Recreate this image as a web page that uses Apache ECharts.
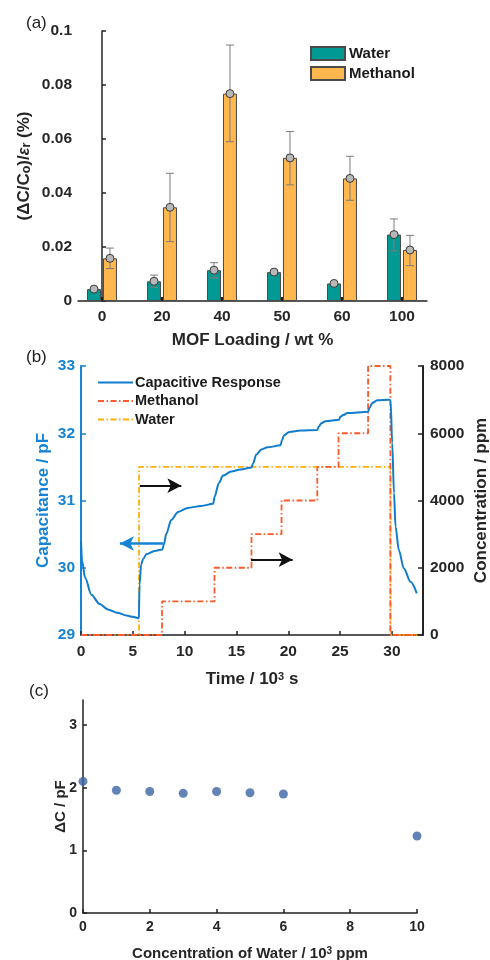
<!DOCTYPE html>
<html>
<head>
<meta charset="utf-8">
<script src="https://cdn.jsdelivr.net/npm/echarts@6/dist/echarts.min.js"></script>
<style>
  html, body { margin: 0; padding: 0; background: #fff; }
  #chart { width: 490px; height: 960px; }
</style>
</head>
<body>
<div id="chart"></div>
<script>
// (a) sensitivity vs MOF loading
var loadings = ['0', '20', '40', '50', '60', '100'];
var waterMean = [0.0044, 0.0073, 0.0114, 0.0107, 0.0065, 0.0246];
var waterLow  = [0.0040, 0.0051, 0.0086, 0.0101, 0.0060, 0.0186];
var waterHigh = [0.0048, 0.0096, 0.0142, 0.0112, 0.0069, 0.0304];
var methMean  = [0.0158, 0.0347, 0.0768, 0.0530, 0.0454, 0.0189];
var methLow   = [0.0120, 0.0220, 0.0590, 0.0430, 0.0373, 0.0131];
var methHigh  = [0.0196, 0.0473, 0.0948, 0.0628, 0.0536, 0.0243];

// (b) time trace, time in 10^3 s
var capTime = [0, 0.1, 0.4, 1.0, 1.8, 2.6, 3.5, 4.4, 5.0, 5.58,
  5.65, 5.8, 6.0, 6.3, 7.1, 7.85,
  8.0, 8.24, 8.7, 9.36, 10.3, 11.6, 12.75,
  12.9, 13.3, 13.7, 14.5, 15.4, 16.45,
  16.6, 16.9, 17.4, 18.0, 19.25,
  19.4, 19.6, 20.1, 21.2, 22.8,
  22.95, 23.2, 23.6, 24.9,
  25.0, 25.3, 25.7, 27.7,
  27.85, 28.1, 28.6, 29.7, 29.87,
  30.03, 30.2, 30.35, 30.67, 31.15, 31.8, 32.4];
var capVal = [30.40, 30.10, 29.85, 29.60, 29.46, 29.38, 29.33, 29.29, 29.27, 29.25,
  29.75, 30.05, 30.13, 30.20, 30.25, 30.27,
  30.35, 30.51, 30.71, 30.83, 30.89, 30.92, 30.95,
  31.06, 31.26, 31.37, 31.43, 31.46, 31.49,
  31.55, 31.68, 31.76, 31.79, 31.82,
  31.90, 31.97, 32.02, 32.04, 32.05,
  32.10, 32.15, 32.18, 32.20,
  32.24, 32.27, 32.30, 32.32,
  32.38, 32.45, 32.49, 32.50, 32.49,
  31.85, 31.11, 30.61, 30.26, 29.99, 29.79, 29.62];
var methStepTime = [0, 7.82, 12.88, 16.45, 19.35, 22.8, 24.85, 27.7, 29.85, 32.4];
var methStepPpm  = [0, 1000, 2000, 3000, 4000, 5000, 6000, 8000, 0, 0];
var waterStepTime = [0, 5.6, 29.87, 32.4];
var waterStepPpm  = [0, 5000, 0, 0];

// arrows on (b), [start, end] in time / pF
var arrowWater = [[5.67, 31.22], [9.68, 31.22]];
var arrowMeth  = [[16.4, 30.12], [20.42, 30.12]];
var arrowCap   = [[7.95, 30.36], [3.75, 30.36]];

// (c) delta C vs water concentration (10^3 ppm)
var waterConc = [0, 1, 2, 3, 4, 5, 6, 10];
var deltaC    = [2.10, 1.96, 1.94, 1.91, 1.94, 1.92, 1.90, 1.23];

var BAR_W = 14, BAR_GAP = 0.14;
var FONT = 'Liberation Sans';
var INK = '#262626';
var BLUE = '#1683d3';
var CAP_BLUE = '#0f7ccc';
var METH_RED = '#fb5a2a';
var WATER_YEL = '#ffae0a';

function pairs(xs, ys) {
  return xs.map(function (x, i) { return [x, ys[i]]; });
}

function errorBars(sign) {
  return function (params, api) {
    var x = api.value(0);
    var lo = api.coord([x, api.value(1)]);
    var hi = api.coord([x, api.value(2)]);
    var mid = api.coord([x, api.value(3)]);
    var cx = lo[0] + sign * BAR_W * (1 + BAR_GAP) / 2;
    var st = { stroke: '#7c7c7c', lineWidth: 1 };
    return {
      type: 'group',
      children: [
        { type: 'line', shape: { x1: cx, y1: hi[1], x2: cx, y2: lo[1] }, style: st },
        { type: 'line', shape: { x1: cx - 4, y1: hi[1], x2: cx + 4, y2: hi[1] }, style: st },
        { type: 'line', shape: { x1: cx - 4, y1: lo[1], x2: cx + 4, y2: lo[1] }, style: st },
        { type: 'circle', shape: { cx: cx, cy: mid[1], r: 4 },
          style: { fill: '#b8b8b8', stroke: '#3a3a3a', lineWidth: 1 } }
      ]
    };
  };
}

function errData(mean, low, high) {
  return mean.map(function (m, i) { return [i, low[i], high[i], m]; });
}

function arrowLine(a, color, width) {
  return [
    { coord: a[0], lineStyle: { color: color, width: width, type: 'solid' }, symbol: 'none' },
    { coord: a[1], symbol: 'arrow' }
  ];
}

var nameLbl = { fontSize: 17, fontWeight: 'bold', color: INK };

var chart = echarts.init(document.getElementById('chart'));

var option = {
  animation: false,
  textStyle: { fontFamily: FONT },
  title: [
    { text: '(a)', left: 26, top: 15, padding: 0, textStyle: { fontSize: 17, fontWeight: 'normal', color: '#222' } },
    { text: '(b)', left: 26, top: 349, padding: 0, textStyle: { fontSize: 17, fontWeight: 'normal', color: '#222' } },
    { text: '(c)', left: 29, top: 683, padding: 0, textStyle: { fontSize: 17, fontWeight: 'normal', color: '#222' } }
  ],
  legend: [
    {
      data: ['Water', 'Methanol'],
      left: 310, top: 46, orient: 'vertical', padding: 0,
      icon: 'rect', itemWidth: 34, itemHeight: 13, itemGap: 5,
      selectedMode: false,
      textStyle: { fontSize: 15, fontWeight: 'bold', color: '#1a1a1a', padding: [0, 0, 0, -1] }
    },
    {
      data: ['Capacitive Response', 'Methanol (b)', 'Water (b)'],
      left: 97, top: 375, orient: 'vertical', padding: 0,
      itemWidth: 35, itemHeight: 14, itemGap: 3.5,
      itemStyle: { opacity: 0 },
      selectedMode: false,
      formatter: function (n) { return n.replace(' (b)', ''); },
      textStyle: { fontSize: 14.5, fontWeight: 'bold', color: '#1a1a1a', padding: [0, 0, 0, -3] }
    }
  ],
  grid: [
    { left: 78, top: 31, width: 349, height: 270, outerBoundsMode: 'none' },
    { left: 81, top: 366, width: 342, height: 269, outerBoundsMode: 'none' },
    { left: 83, top: 700, width: 334, height: 213, outerBoundsMode: 'none' }
  ],
  xAxis: [
    {
      gridIndex: 0, type: 'value', min: -0.4, max: 5.4167,
      axisLine: { show: true, onZero: false, lineStyle: { color: '#222', width: 1.5 } },
      axisTick: { show: true, inside: true, length: 4, customValues: [0, 1, 2, 3, 4, 5], lineStyle: { color: '#222', width: 2 } },
      axisLabel: { customValues: [0, 1, 2, 3, 4, 5], margin: 8, formatter: function (v) { return loadings[Math.round(v)]; }, fontSize: 15.5, fontWeight: 'bold', color: INK },
      splitLine: { show: false },
      name: 'MOF Loading / wt %', nameLocation: 'middle', nameGap: 31, nameMoveOverlap: false, nameTextStyle: nameLbl
    },
    {
      gridIndex: 1, type: 'value', min: 0, max: 33, interval: 5,
      axisLine: { show: true, onZero: false, lineStyle: { color: '#222', width: 1.5 } },
      axisTick: { show: true, inside: true, length: 4, customValues: [0, 5, 10, 15, 20, 25, 30], lineStyle: { color: '#222', width: 1.5 } },
      axisLabel: { customValues: [0, 5, 10, 15, 20, 25, 30], margin: 9, fontSize: 15.5, fontWeight: 'bold', color: INK },
      splitLine: { show: false },
      name: 'Time / 10{sup|3} s', nameLocation: 'middle', nameGap: 36, nameMoveOverlap: false,
      nameTextStyle: { fontSize: 17, fontWeight: 'bold', color: INK, rich: { sup: { fontSize: 11, fontWeight: 'bold', color: INK, verticalAlign: 'top', lineHeight: 10 } } }
    },
    {
      gridIndex: 2, type: 'value', min: 0, max: 10, interval: 2,
      axisLine: { show: true, onZero: false, lineStyle: { color: '#222', width: 1.5 } },
      axisTick: { show: true, inside: true, length: 4, lineStyle: { color: '#222', width: 1.5 } },
      axisLabel: { margin: 7, fontSize: 14, fontWeight: 'bold', color: INK },
      splitLine: { show: false },
      name: 'Concentration of Water / 10{sup|3} ppm', nameLocation: 'middle', nameGap: 33, nameMoveOverlap: false,
      nameTextStyle: { fontSize: 15, fontWeight: 'bold', color: INK, rich: { sup: { fontSize: 10, fontWeight: 'bold', color: INK, verticalAlign: 'top', lineHeight: 9 } } }
    }
  ],
  yAxis: [
    {
      gridIndex: 0, type: 'value', min: 0, max: 0.1, interval: 0.02,
      axisLine: { show: true, lineStyle: { color: '#222', width: 1.5 } },
      axisTick: { show: true, inside: true, length: 4, lineStyle: { color: '#222', width: 1.5 } },
      axisLabel: { margin: 6, fontSize: 15.5, fontWeight: 'bold', color: INK, formatter: function (v) { return String(+v.toFixed(2)); } },
      splitLine: { show: false },
      name: '(ΔC/C{sub|o})/{eps|ε}{sub|r} (%)', nameLocation: 'middle', nameGap: 45, nameRotate: 90, nameMoveOverlap: false,
      nameTextStyle: {
        fontSize: 17, fontWeight: 'bold', color: INK,
        rich: {
          sub: { fontSize: 12.5, fontWeight: 'bold', color: INK, verticalAlign: 'bottom', lineHeight: 10 },
          eps: { fontSize: 16, fontStyle: 'italic', color: INK }
        }
      }
    },
    {
      gridIndex: 1, type: 'value', position: 'left', min: 29, max: 33, interval: 1,
      axisLine: { show: true, onZero: false, lineStyle: { color: BLUE, width: 2 } },
      axisTick: { show: true, inside: true, length: 5, lineStyle: { color: BLUE, width: 1.5 } },
      axisLabel: { margin: 6, fontSize: 15.5, fontWeight: 'bold', color: BLUE },
      splitLine: { show: false },
      name: 'Capacitance / pF', nameLocation: 'middle', nameGap: 29, nameRotate: 90, nameMoveOverlap: false,
      nameTextStyle: { fontSize: 17, fontWeight: 'bold', color: BLUE }
    },
    {
      gridIndex: 1, type: 'value', position: 'right', min: 0, max: 8000, interval: 2000,
      axisLine: { show: true, onZero: false, lineStyle: { color: '#222', width: 2 } },
      axisTick: { show: true, inside: true, length: 5, lineStyle: { color: '#222', width: 1.5 } },
      axisLabel: { margin: 7, fontSize: 15.5, fontWeight: 'bold', color: INK, formatter: function (v) { return String(v); } },
      splitLine: { show: false },
      name: 'Concentration / ppm', nameLocation: 'middle', nameGap: 50, nameRotate: 90, nameMoveOverlap: false,
      nameTextStyle: { fontSize: 17, fontWeight: 'bold', color: INK }
    },
    {
      gridIndex: 2, type: 'value', min: 0, max: 3.4, interval: 1,
      axisLine: { show: true, lineStyle: { color: '#222', width: 1.5 } },
      axisTick: { show: true, inside: true, length: 4, customValues: [0, 1, 2, 3], lineStyle: { color: '#222', width: 1.5 } },
      axisLabel: { customValues: [0, 1, 2, 3], margin: 6, fontSize: 14, fontWeight: 'bold', color: INK },
      splitLine: { show: false },
      name: 'ΔC / pF', nameLocation: 'middle', nameGap: 15, nameRotate: 90, nameMoveOverlap: false,
      nameTextStyle: { fontSize: 15, fontWeight: 'bold', color: INK }
    }
  ],
  series: [
    {
      name: 'Water', type: 'bar', xAxisIndex: 0, yAxisIndex: 0,
      data: pairs(loadings.map(function (l, i) { return i; }), waterMean),
      barWidth: BAR_W, barGap: (BAR_GAP * 100) + '%',
      itemStyle: { color: '#009a95', borderColor: '#4a4a4a', borderWidth: 1 },
      emphasis: { disabled: true }
    },
    {
      name: 'Methanol', type: 'bar', xAxisIndex: 0, yAxisIndex: 0,
      data: pairs(loadings.map(function (l, i) { return i; }), methMean),
      barWidth: BAR_W, barGap: (BAR_GAP * 100) + '%',
      itemStyle: { color: '#ffb74e', borderColor: '#4a4a4a', borderWidth: 1 },
      emphasis: { disabled: true }
    },
    {
      name: 'water error', type: 'custom', xAxisIndex: 0, yAxisIndex: 0, z: 5,
      renderItem: errorBars(-1), data: errData(waterMean, waterLow, waterHigh),
      encode: { x: 0, y: [1, 2, 3] }, silent: true
    },
    {
      name: 'methanol error', type: 'custom', xAxisIndex: 0, yAxisIndex: 0, z: 5,
      renderItem: errorBars(1), data: errData(methMean, methLow, methHigh),
      encode: { x: 0, y: [1, 2, 3] }, silent: true
    },
    {
      name: 'Water (b)', type: 'line', xAxisIndex: 1, yAxisIndex: 2,
      data: pairs(waterStepTime, waterStepPpm), step: 'end',
      symbol: 'none', color: WATER_YEL,
      lineStyle: { color: WATER_YEL, width: 1.8, type: [6, 2.5, 1.5, 2.5] },
      emphasis: { disabled: true }, z: 2
    },
    {
      name: 'Methanol (b)', type: 'line', xAxisIndex: 1, yAxisIndex: 2,
      data: pairs(methStepTime, methStepPpm), step: 'end',
      symbol: 'none', color: METH_RED,
      lineStyle: { color: METH_RED, width: 1.8, type: [6, 2.5, 1.5, 2.5] },
      emphasis: { disabled: true }, z: 3
    },
    {
      name: 'Capacitive Response', type: 'line', xAxisIndex: 1, yAxisIndex: 1,
      data: pairs(capTime, capVal), smooth: 0.3, smoothMonotone: 'x',
      symbol: 'none', color: CAP_BLUE,
      lineStyle: { color: CAP_BLUE, width: 2 },
      emphasis: { disabled: true }, z: 4,
      markLine: {
        silent: true, symbolSize: [11, 14], label: { show: false },
        emphasis: { disabled: true },
        data: [
          arrowLine(arrowWater, '#111', 2),
          arrowLine(arrowMeth, '#111', 2),
          arrowLine(arrowCap, BLUE, 2.5)
        ]
      }
    },
    {
      name: 'deltaC', type: 'scatter', xAxisIndex: 2, yAxisIndex: 3,
      data: pairs(waterConc, deltaC), symbolSize: 9,
      itemStyle: { color: '#3b64a4' }, emphasis: { disabled: true }
    }
  ]
};

chart.setOption(option);
</script>
</body>
</html>
